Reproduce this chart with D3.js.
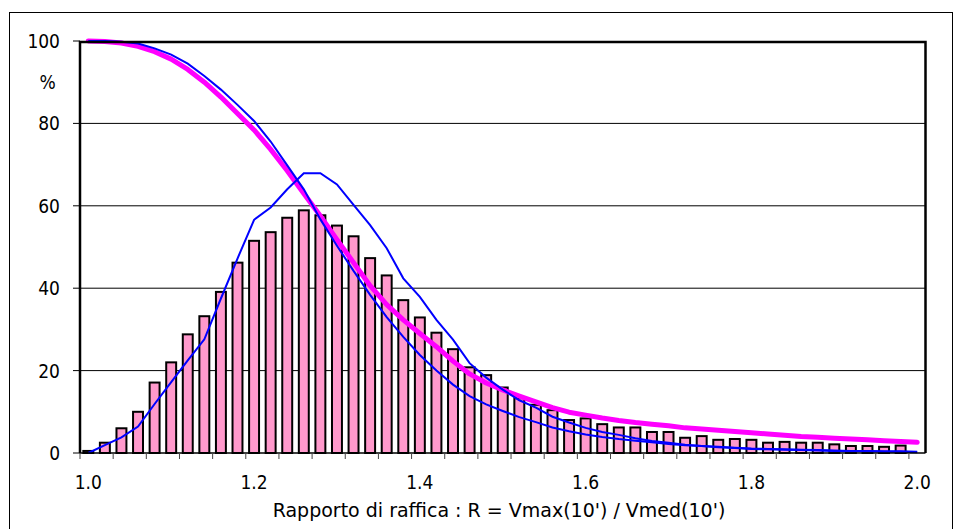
<!DOCTYPE html>
<html>
<head>
<meta charset="utf-8">
<script src="https://cdn.jsdelivr.net/npm/d3@7"></script>
<style>
  body { margin: 0; background: #fff; }
  svg { display: block; font-family: "DejaVu Sans Condensed", "DejaVu Sans", sans-serif; }
</style>
</head>
<body>
<svg id="chart" width="954" height="529"></svg>
<script>
// histogram classes of R (width 0.02), values in %
const binCenters = [
  1.01, 1.03, 1.05, 1.07, 1.09, 1.11, 1.13, 1.15, 1.17, 1.19,
  1.21, 1.23, 1.25, 1.27, 1.29, 1.31, 1.33, 1.35, 1.37, 1.39,
  1.41, 1.43, 1.45, 1.47, 1.49, 1.51, 1.53, 1.55, 1.57, 1.59,
  1.61, 1.63, 1.65, 1.67, 1.69, 1.71, 1.73, 1.75, 1.77, 1.79,
  1.81, 1.83, 1.85, 1.87, 1.89, 1.91, 1.93, 1.95, 1.97, 1.99
];
const frequency = [
  0.5, 2.5, 6.0, 10.0, 17.1, 22.0, 28.8, 33.2, 39.1, 46.2,
  51.5, 53.6, 57.1, 58.9, 57.7, 55.2, 52.6, 47.3, 43.1, 37.1,
  32.9, 29.2, 25.2, 20.8, 18.9, 15.9, 13.3, 11.7, 10.4, 8.0,
  8.4, 7.0, 6.2, 6.2, 5.1, 5.1, 3.7, 4.1, 3.2, 3.4,
  3.2, 2.5, 2.7, 2.5, 2.5, 2.1, 1.7, 1.7, 1.5, 1.8
];

// plotting positions of the curves (one more point than the bars)
const curveX = binCenters.concat([2.01]);

// observed exceedance (magenta)
const exceedObs = [
  100, 99.9, 99.5, 98.7, 97.4, 95.6, 93.1, 90.0, 86.4, 82.4,
  78.4, 73.7, 68.5, 63.0, 57.5, 51.8, 46.2, 40.6, 36.0, 32.3,
  29.0, 25.8, 22.3, 19.2, 17.0, 15.3, 13.8, 12.4, 11.0, 9.9,
  9.2, 8.5, 7.9, 7.4, 7.0, 6.6, 6.1, 5.8, 5.5, 5.2,
  4.9, 4.6, 4.3, 4.0, 3.8, 3.6, 3.4, 3.2, 3.0, 2.8,
  2.6
];
// fitted exceedance (blue)
const exceedFit = [
  100, 100, 99.8, 99.4, 98.2, 96.7, 94.5, 91.5, 88.2, 84.5,
  80.6, 75.6, 69.8, 64.0, 56.7, 50.3, 44.2, 38.4, 33.0, 28.2,
  23.8, 20.0, 16.6, 13.8, 11.8, 10.2, 8.7, 7.5, 6.2, 5.3,
  4.5, 3.9, 3.4, 3.0, 2.6, 2.2, 1.9, 1.7, 1.5, 1.3,
  1.1, 1.0, 0.9, 0.8, 0.7, 0.6, 0.5, 0.5, 0.4, 0.4,
  0.3
];
// fitted density (blue)
const densityFit = [
  0, 1.9, 3.8, 6.4, 11.9, 17.2, 22.5, 27.6, 37.5, 47.2,
  56.6, 59.6, 64.0, 67.9, 67.9, 65.2, 60.2, 55.3, 49.7, 42.4,
  37.9, 32.3, 27.5, 21.8, 18.3, 15.4, 12.8, 11.0, 8.8, 7.4,
  6.1, 5.1, 4.4, 3.6, 2.9, 2.5, 2.0, 1.7, 1.4, 1.2,
  1.0, 0.9, 0.8, 0.7, 0.6, 0.5, 0.4, 0.4, 0.3, 0.3,
  0.2
];

const xLabels = [1.0, 1.2, 1.4, 1.6, 1.8, 2.0];
const yLabels = [0, 20, 40, 60, 80, 100];
const binWidth = 0.02;
const xTitle = "Rapporto di raffica : R = Vmax(10') / Vmed(10')";

const svg = d3.select("#chart");

// outer chart border
svg.append("rect")
  .attr("x", 9.5).attr("y", 12.5)
  .attr("width", 943).attr("height", 530)
  .attr("fill", "none")
  .attr("stroke", "#000")
  .attr("stroke-width", 1);

const plotLeft = 80, plotRight = 925.5, plotTop = 41, plotBottom = 453;

const x = d3.scaleLinear().domain([1, 2.02]).range([plotLeft, plotRight]);
const y = d3.scaleLinear().domain([0, 100]).range([plotBottom, plotTop]);

// gridlines
svg.append("g")
  .selectAll("line")
  .data(yLabels.filter(d => d > 0 && d < 100))
  .enter()
  .append("line")
  .attr("x1", plotLeft).attr("x2", plotRight)
  .attr("y1", d => y(d)).attr("y2", d => y(d))
  .attr("stroke", "#000")
  .attr("stroke-width", 1);

// bars
const barW = x(1 + binWidth) - x(1);
svg.append("g")
  .selectAll("rect")
  .data(binCenters)
  .enter()
  .append("rect")
  .attr("x", (d) => x(d) - barW * 0.3)
  .attr("y", (d, i) => y(frequency[i]))
  .attr("width", barW * 0.6)
  .attr("height", (d, i) => y(0) - y(frequency[i]))
  .attr("fill", "#FF99CC")
  .attr("stroke", "#000")
  .attr("stroke-width", 2);

const line = d3.line()
  .x((d) => x(d[0]))
  .y((d) => y(d[1]));

svg.append("path")
  .datum(curveX.map((d, i) => [d, exceedObs[i]]))
  .attr("d", line)
  .attr("fill", "none")
  .attr("stroke", "#FF00FF")
  .attr("stroke-width", 5)
  .attr("stroke-linejoin", "round")
  .attr("stroke-linecap", "round");

[exceedFit, densityFit].forEach(series => {
  svg.append("path")
    .datum(curveX.map((d, i) => [d, series[i]]))
    .attr("d", line)
    .attr("fill", "none")
    .attr("stroke", "#0000FF")
    .attr("stroke-width", 2);
});

// x axis: baseline, ticks every 0.04, labels every 0.2
svg.append("line")
  .attr("x1", plotLeft).attr("x2", plotRight)
  .attr("y1", plotBottom).attr("y2", plotBottom)
  .attr("stroke", "#000").attr("stroke-width", 1.5);

const minorTicks = d3.range(0, 26).map(i => 1 + i * 0.04);
svg.append("g")
  .selectAll("line")
  .data(minorTicks)
  .enter()
  .append("line")
  .attr("x1", d => x(d)).attr("x2", d => x(d))
  .attr("y1", plotBottom).attr("y2", plotBottom + 6)
  .attr("stroke", "#444").attr("stroke-width", 1);

svg.append("g")
  .selectAll("text")
  .data(xLabels)
  .enter()
  .append("text")
  .attr("x", d => x(d + binWidth / 2))
  .attr("y", 489)
  .attr("text-anchor", "middle")
  .attr("font-size", 19)
  .text(d => d.toFixed(1));

// y axis ticks and labels
svg.append("g")
  .selectAll("line")
  .data(yLabels)
  .enter()
  .append("line")
  .attr("x1", plotLeft - 7).attr("x2", plotLeft)
  .attr("y1", d => y(d)).attr("y2", d => y(d))
  .attr("stroke", "#000").attr("stroke-width", 1);

svg.append("g")
  .selectAll("text")
  .data(yLabels)
  .enter()
  .append("text")
  .attr("x", 60)
  .attr("y", d => y(d) + 7)
  .attr("text-anchor", "end")
  .attr("font-size", 19)
  .text(d => d);

svg.append("text")
  .attr("x", 47.5).attr("y", 89)
  .attr("text-anchor", "middle")
  .attr("font-size", 19)
  .text("%");

// plot frame (left, top, right)
svg.append("path")
  .attr("d", `M${plotLeft},${plotBottom}V${plotTop + 1}H${plotRight}V${plotBottom}`)
  .attr("fill", "none")
  .attr("stroke", "#000")
  .attr("stroke-width", 2.5);

svg.append("text")
  .attr("x", 499).attr("y", 517)
  .attr("text-anchor", "middle")
  .attr("font-family", "'DejaVu Sans', sans-serif")
  .attr("font-size", 19)
  .text(xTitle);
</script>
</body>
</html>
